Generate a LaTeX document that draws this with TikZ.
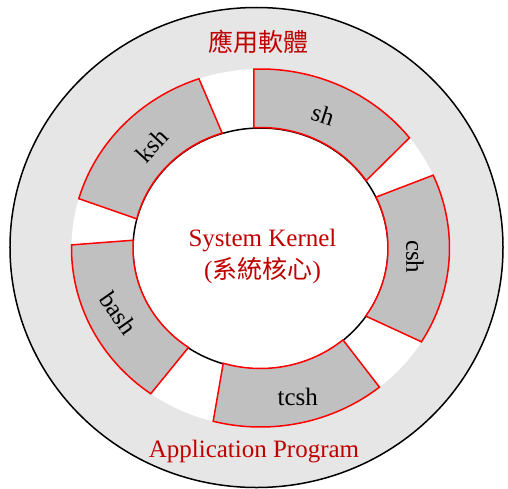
\documentclass[tikz,border=0pt]{standalone}
\usepackage{fontspec}
\setmainfont{Liberation Serif}
\newfontfamily\cjk{Noto Sans CJK TC}
\definecolor{ringgray}{RGB}{230,230,230}
\definecolor{shellgray}{RGB}{192,192,192}
\definecolor{labelred}{RGB}{192,0,0}
\tikzset{
  shell/.style={fill=shellgray, draw=red, line width=1.5pt},
  shelltext/.style={font=\fontsize{25}{30}\selectfont, inner sep=0pt},
  redtext/.style={text=labelred, font=\fontsize{25}{30}\selectfont, inner sep=0pt}
}
\begin{document}
\begin{tikzpicture}[x=1pt, y=1pt]
\useasboundingbox (-260.5, -240) rectangle (247.5, 248);
\draw[fill=ringgray, line width=1.5pt] (-4, 0.5) ellipse [x radius=246.5, y radius=240];
\fill[white] (0, 0) ellipse [x radius=189, y radius=179];
\draw[fill=white, line width=1.5pt] (0, -0.5) ellipse [x radius=127.5, y radius=120.5];
% shells
\draw[shell] (109:189 and 179) arc[start angle=109, end angle=164, x radius=189, y radius=179]
  -- (166:127.5 and 120.5) arc[start angle=166, end angle=107.5, x radius=127.5, y radius=120.5] -- cycle;
\draw[shell] (92:189 and 179) arc[start angle=92, end angle=38, x radius=189, y radius=179]
  -- (34:127.5 and 120.5) arc[start angle=34, end angle=93, x radius=127.5, y radius=120.5] -- cycle;
\draw[shell] (24:189 and 179) arc[start angle=24, end angle=-31.6, x radius=189, y radius=179]
  -- (-34.4:127.5 and 120.5) arc[start angle=-34.4, end angle=25, x radius=127.5, y radius=120.5] -- cycle;
\draw[shell] (-51:189 and 179) arc[start angle=-51, end angle=-104.5, x radius=189, y radius=179]
  -- (-107:127.5 and 120.5) arc[start angle=-107, end angle=-49.7, x radius=127.5, y radius=120.5] -- cycle;
\draw[shell] (179:189 and 179) arc[start angle=179, end angle=234.5, x radius=189, y radius=179]
  -- (235.6:127.5 and 120.5) arc[start angle=235.6, end angle=176.3, x radius=127.5, y radius=120.5] -- cycle;
\node[shelltext, rotate=47] (ksh) at (-108.8, 102.5) {ksh};
\node[shelltext, rotate=-18] (sh) at (62.5, 133) {sh};
\node[shelltext, rotate=-90] (csh) at (154.5, -8.7) {csh};
\node[shelltext] (tcsh) at (37.2, -148.5) {tcsh};
\node[shelltext, rotate=-55] (bash) at (-142.2, -65.3) {bash};
% labels
\node[redtext] (app-zh) at (-2.2, 206.3) {\cjk 應用軟體};
\node[redtext, anchor=base] (app-en) at (-6.5, -209) {Application Program};
\node[redtext, anchor=base] (kernel-en) at (2, 2) {System Kernel};
\node[redtext, anchor=base] (kernel-zh) at (2, -30) {(\cjk 系統核心\rm)};
\end{tikzpicture}
\end{document}
